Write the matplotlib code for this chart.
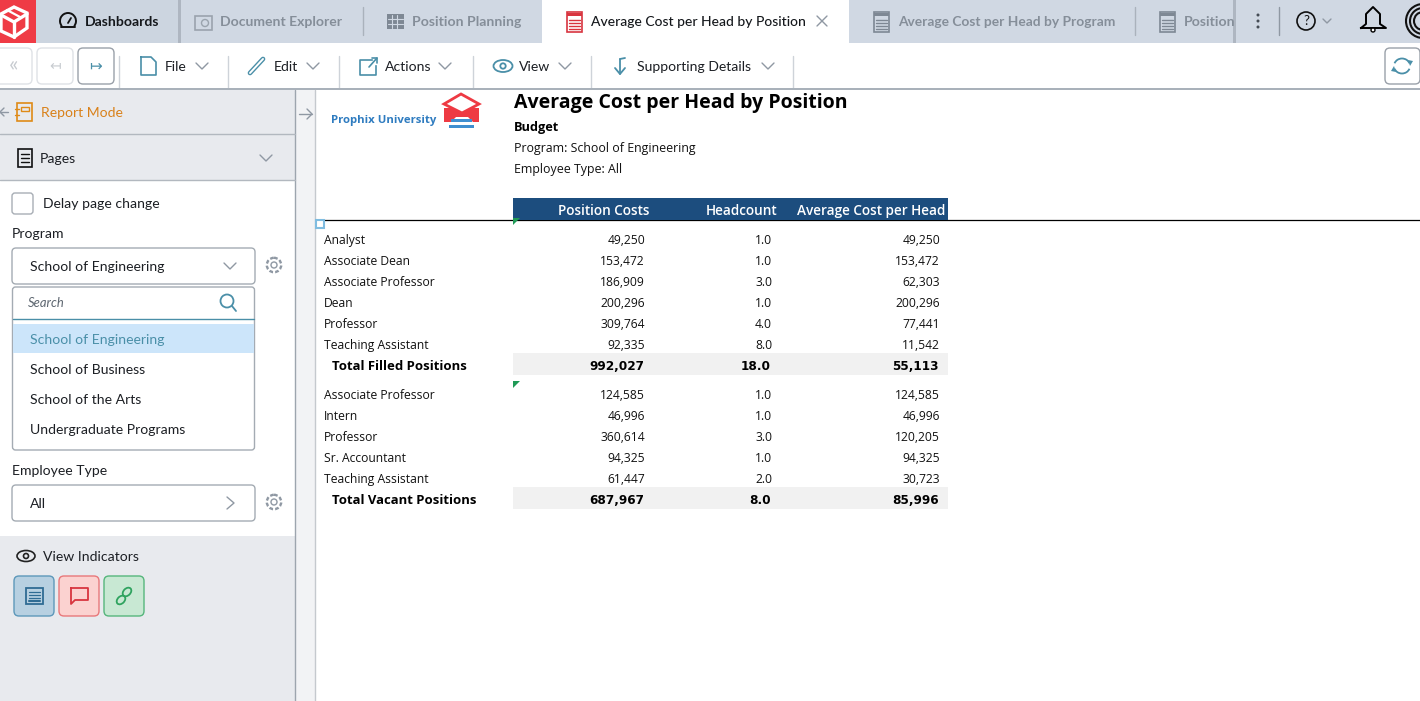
import matplotlib
matplotlib.use('Agg')
import matplotlib.pyplot as plt
from matplotlib.patches import Rectangle, FancyBboxPatch, Circle, Polygon, Ellipse, Arc

# table data
filled_positions = ['Analyst', 'Associate Dean', 'Associate Professor', 'Dean', 'Professor', 'Teaching Assistant']
filled_costs = [49250, 153472, 186909, 200296, 309764, 92335]
filled_heads = [1.0, 1.0, 3.0, 1.0, 4.0, 8.0]
filled_avg = [49250, 153472, 62303, 200296, 77441, 11542]
filled_total = ('Total Filled Positions', 992027, 18.0, 55113)

vacant_positions = ['Associate Professor', 'Intern', 'Professor', 'Sr. Accountant', 'Teaching Assistant']
vacant_costs = [124585, 46996, 360614, 94325, 61447]
vacant_heads = [1.0, 1.0, 3.0, 1.0, 2.0]
vacant_avg = [124585, 46996, 120205, 94325, 30723]
vacant_total = ('Total Vacant Positions', 687967, 8.0, 85996)

columns = ['Position Costs', 'Headcount', 'Average Cost per Head']
programs = ['School of Engineering', 'School of Business', 'School of the Arts', 'Undergraduate Programs']
menus = ['File', 'Edit', 'Actions', 'View', 'Supporting Details']

UI = 'Lato'
TBL = 'Open Sans'
BLUE = '#4a8fa8'
GREY = '#8f98a3'
TAB = '#d0d8e3'
PANEL = '#e8eaee'
EDGE = '#a4abb3'

fig = plt.figure(figsize=(14.2, 7.01), dpi=100)
ax = fig.add_axes([0, 0, 1, 1])
ax.set_xlim(0, 1420)
ax.set_ylim(701, 0)
ax.axis('off')


def box(x, y, w, h, fc, ec='none', lw=1, z=1):
    ax.add_patch(Rectangle((x, y), w, h, fc=fc, ec=ec, lw=lw, zorder=z))


def rbox(x, y, w, h, fc='white', ec=EDGE, lw=1, r=4, z=2):
    ax.add_patch(FancyBboxPatch((x + r, y + r), w - 2 * r, h - 2 * r, boxstyle=f'round,pad={r},rounding_size={r}',
                                fc=fc, ec=ec, lw=lw, zorder=z))


def line(xs, ys, c='black', lw=1, z=3):
    ax.plot(xs, ys, color=c, lw=lw, zorder=z, solid_capstyle='round')


def txt(x, y, s, size=10.1, c='#1c1f24', ha='left', weight='normal', family=UI, style='normal', z=5):
    ax.text(x, y, s, fontsize=size, color=c, ha=ha, va='center', fontweight=weight, family=family, style=style, zorder=z)


def chevron(x, y, c=GREY, w=6, h=6):
    line([x - w, x, x + w], [y - h / 2, y + h / 2, y - h / 2], c=c, lw=1)


def doc_icon(x, y, c='#7e8894', w=15, h=20):
    box(x, y, w, h, 'none', ec=c, lw=1.2, z=4)
    box(x, y + 1, w, 3, c, z=4)
    for k in (8, 11, 14, 17):
        line([x + 2, x + w - 2], [y + k, y + k], c=c, lw=1, z=4)


def gear(x, y):
    ax.add_patch(Circle((x, y), 3, fc='none', ec=GREY, lw=1, zorder=4))
    ax.add_patch(Circle((x, y), 7.2, fc='none', ec=GREY, lw=1.7, ls=(0, (1.6, 0.9)), zorder=4))


# background
box(0, 0, 1420, 701, 'white', z=0)

# tab strip
box(0, 0, 1420, 43, TAB)
box(0, 0, 36, 43, '#ef3b45', z=2)
ax.add_patch(Polygon([(14, 7), (27, 13), (27, 28), (14, 37), (1, 31), (1, 14)], fc='none', ec='white', lw=2.4, zorder=3))
line([1, 14, 27], [15, 22, 14], c='white', lw=2.4)
line([14, 14], [22, 37], c='white', lw=2.4)
line([7, 20], [10, 17], c='white', lw=1.6)
box(36, 0, 143, 43, '#ccd5e0', z=1)
box(178, 0, 3, 43, '#aeb6c1', z=2)
ax.add_patch(Arc((68, 21), 16, 16, theta1=140, theta2=400, ec='#111111', lw=1.4, zorder=4))
line([61, 75], [27, 27], c='#111111', lw=1.4, z=4)
line([68, 71], [23, 18], c='#111111', lw=1.3, z=4)
txt(85, 21.5, 'Dashboards', c='#15181c', weight='bold')
box(195, 16, 17, 14, 'none', ec='#9aa3ad', lw=1.2, z=4)
ax.add_patch(Circle((205, 23), 3.5, fc='none', ec='#9aa3ad', lw=1, zorder=4))
txt(220, 21.5, 'Document Explorer', c='#858e99', weight='bold')
line([363, 363], [7, 35], c='#aab2bc')
box(387, 14, 17, 15, '#7e8894', z=4)
for k in (392, 397):
    line([k, k], [15, 28], c=TAB, lw=0.8, z=5)
for k in (19, 24):
    line([388, 403], [k, k], c=TAB, lw=0.8, z=5)
txt(412, 21.5, 'Position Planning', c='#858e99', weight='bold')

box(542, 0, 307, 43, 'white', z=2)
doc_icon(567, 12, c='#d8353f')
txt(591, 21.5, 'Average Cost per Head by Position', size=10, c='#15181c', weight='medium')
line([817, 827], [16, 26], c=GREY)
line([827, 817], [16, 26], c=GREY)
doc_icon(874, 12)
txt(898, 21.5, 'Average Cost per Head by Program', size=9.95, c='#858e99', weight='bold')
line([1135, 1135], [7, 35], c='#aab2bc')
doc_icon(1160, 12)
txt(1184, 21.5, 'Position', c='#858e99', weight='bold')
box(1234, 0, 186, 43, TAB, z=3)
box(1233, 0, 3, 43, '#aeb6c1', z=4)
for k in (15, 21, 27):
    ax.add_patch(Circle((1258, k), 1.5, fc='#454c55', zorder=5))
line([1279, 1279], [7, 35], c='#8f98a3', z=5)
ax.add_patch(Circle((1306, 21), 9, fc='none', ec='#111111', lw=1.2, zorder=5))
txt(1306, 21, '?', size=9.5, ha='center', c='#111111', z=6)
chevron(1327, 21, w=4, h=4)
ax.plot([1361, 1366, 1366, 1373, 1380, 1380, 1386, 1361], [28, 24, 14, 7, 14, 24, 28, 28], color='black', lw=1.4, zorder=5)
ax.add_patch(Circle((1373, 30), 2, fc='white', ec='black', lw=1, zorder=5))
for r in (17, 13, 9):
    ax.add_patch(Circle((1423, 21), r, fc='none', ec='#111111', lw=1.5, zorder=5))

# toolbar
rbox(-8, 48, 40, 36, ec='#dfe2e6', r=5)
txt(14, 65, '«', size=16, c='#c7cbd0', ha='center')
rbox(37, 48, 36, 36, ec='#dfe2e6', r=5)
txt(55, 66, '↤', size=10, c='#c7cbd0', ha='center', family='DejaVu Sans')
rbox(78, 48, 36, 36, ec='#9aa1a9', r=5)
txt(96, 66, '↦', size=11, c=BLUE, ha='center', family='DejaVu Sans')

for x in (119, 228, 339, 473, 591, 793):
    line([x, x], [56, 88], c='#ced3d9')
ax.plot([141, 151, 156, 156, 141, 141], [57, 57, 62, 75, 75, 57], color=BLUE, lw=1.2, zorder=4)
line([250, 263], [73, 59], c=BLUE, lw=3.4)
line([250, 263], [73, 59], c='white', lw=1.4, z=4)
ax.plot([372, 360, 360, 376, 376], [60, 60, 75, 75, 66], color=BLUE, lw=1.2, zorder=4)
line([369, 377], [67, 58], c=BLUE, lw=1.2, z=5)
line([372, 377, 377], [58, 58, 63], c=BLUE, lw=1.2, z=5)
ax.add_patch(Ellipse((503, 66), 19, 12, fc='none', ec=BLUE, lw=1.3, zorder=4))
ax.add_patch(Circle((503, 66), 2.7, fc='none', ec=BLUE, lw=1.3, zorder=4))
line([620, 620], [59, 74], c=BLUE, lw=1.3)
line([615, 620, 625], [68, 74, 68], c=BLUE, lw=1.3)
line([620, 625], [59, 58], c=BLUE, lw=1.3)
menu_x = [165, 274, 385, 519, 637]
chev_x = [202, 313, 445, 565, 768]
for m, x, cx in zip(menus, menu_x, chev_x):
    txt(x, 67, m)
    chevron(cx, 66)
rbox(1385, 48, 35, 36, ec='#9aa1a9', r=5)
ax.add_patch(Arc((1402, 66), 16, 15, theta1=200, theta2=340, ec=BLUE, lw=1.3, zorder=4))
ax.add_patch(Arc((1402, 66), 16, 15, theta1=20, theta2=160, ec=BLUE, lw=1.3, zorder=4))
ax.add_patch(Polygon([(1408, 60), (1413, 61), (1410, 66)], fc=BLUE, zorder=4))
ax.add_patch(Polygon([(1396, 72), (1391, 71), (1394, 66)], fc=BLUE, zorder=4))
box(0, 88, 1420, 2, '#a9b1ba', z=3)

# left panel
box(0, 90, 295, 611, PANEL)
box(295, 90, 21, 611, '#f2f3f5', z=1)
line([295, 295], [90, 701], c='#9da5ae')
line([315, 315], [90, 701], c='#c5c9ce')
line([0, 8], [112, 112], c=GREY)
line([4, 0, 4], [108, 112, 116], c=GREY)
line([299, 312], [114, 114], c=GREY)
line([307, 312, 307], [109, 114, 119], c=GREY)
box(17, 103, 15, 18, 'none', ec='#df8a17', lw=1.2, z=4)
box(21, 107, 8, 4, 'none', ec='#df8a17', lw=1, z=4)
line([15, 19], [109, 109], c='#df8a17', z=4)
line([15, 19], [115, 115], c='#df8a17', z=4)
txt(41, 113, 'Report Mode', c='#d9811a')
line([0, 295], [134, 134], c='#b2b8bf')
box(18, 149, 14, 18, 'none', ec='#111111', lw=1.2, z=4)
for k in (154, 158, 162):
    line([21, 29], [k, k], c='#111111', lw=1, z=4)
txt(40, 159, 'Pages')
chevron(266, 158)
line([0, 295], [180, 180], c='#b2b8bf')
box(0, 181, 295, 355, 'white', z=1)

rbox(12, 193, 21, 21, ec='#a8aeb5', r=3)
txt(43, 204, 'Delay page change')
txt(12, 234, 'Program')
rbox(12, 248, 243, 36)
txt(30, 267, 'School of Engineering')
chevron(230, 266)
gear(274, 265)

# dropdown
rbox(12.5, 287, 242, 163, ec=EDGE, r=3)
txt(28, 303, 'Search', size=9.4, c='#5d6670', style='italic')
ax.add_patch(Circle((227, 301), 6.5, fc='none', ec=BLUE, lw=1.3, zorder=4))
line([232, 236], [306, 311], c=BLUE, lw=1.3)
line([13, 254], [318.5, 318.5], c=BLUE)
box(13, 324, 241, 29, '#cce5fa', z=3)
prog_y = [340, 370, 400, 430]
for i, (p, y) in enumerate(zip(programs, prog_y)):
    txt(30, y, p, c='#4a8fa8' if i == 0 else '#1c1f24')

txt(12, 471, 'Employee Type')
rbox(12, 485, 243, 36)
txt(30, 504, 'All')
line([227, 234, 227], [497, 503, 509], c=GREY)
gear(274, 502)

ax.add_patch(Ellipse((26, 556), 18, 11, fc='none', ec='#222222', lw=1.2, zorder=4))
ax.add_patch(Circle((26, 556), 2.5, fc='none', ec='#222222', lw=1.2, zorder=4))
txt(43, 557, 'View Indicators')
rbox(14, 576, 40, 40, fc='#b7d0e1', ec='#5d98ba', r=5)
rbox(59, 576, 40, 40, fc='#fbd2d0', ec='#e8787a', r=5)
rbox(104, 576, 40, 40, fc='#c8e8d3', ec='#56b67c', r=5)
box(26, 588, 17, 16, 'none', ec='#2f6c94', lw=1.3, z=4)
for k in (592, 595, 598):
    line([29, 40], [k, k], c='#2f6c94', lw=0.9, z=4)
line([29, 40], [601, 601], c='#2f6c94', lw=1.5, z=4)
ax.plot([71, 88, 88, 75, 71, 71], [588, 588, 600, 600, 604, 588], color='#d8353f', lw=1.3, zorder=4)
ax.add_patch(Ellipse((121, 600), 10, 7, angle=-45, fc='none', ec='#2fa35f', lw=1.3, zorder=4))
ax.add_patch(Ellipse((127, 592), 10, 7, angle=-45, fc='none', ec='#2fa35f', lw=1.3, zorder=4))

# report header
txt(331, 121, 'Prophix University', size=8.2, c='#2f7cc0', weight='bold', family='Open Sans')
ax.add_patch(Polygon([(444, 108), (444, 122), (451, 122), (456, 117), (468, 117), (473, 122), (479, 122), (479, 108)], fc='#ee3a43', zorder=3))
ax.add_patch(Polygon([(461, 94), (479, 104), (462, 113), (444, 104)], fc='white', ec='#ee3a43', lw=2, zorder=4))
box(451, 119, 21, 3, '#3f8fd0', z=4)
box(449, 125, 25, 2.5, '#3f8fd0', z=4)
txt(514, 103, 'Average Cost per Head by Position', size=14, c='black', weight='bold', family=TBL)
txt(514, 127.5, 'Budget', size=9.2, c='black', weight='bold', family=TBL)
txt(514, 148.5, 'Program: School of Engineering', size=8.9, c='#111111', family=TBL)
txt(514, 169.5, 'Employee Type: All', size=8.9, c='#111111', family=TBL)

# table
box(513, 198, 435, 22, '#1c4d7e', z=2)
line([316, 1420], [219.5, 219.5], c='black', lw=0.9, z=1.5)
col_hdr_x = [650, 777, 945]
for c, x in zip(columns, col_hdr_x):
    txt(x, 211, c, size=9.85, c='white', ha='right', family=TBL, weight='semibold')
box(316, 220, 8, 8, 'white', ec='#7fbce0', lw=1.5, z=4)
for y in (218, 381):
    ax.add_patch(Polygon([(513, y), (520, y), (513, y + 7)], fc='#1f9a56', zorder=4))

col_x = [645, 772, 940]
tot_x = [644, 771, 939]


def draw_rows(names, costs, heads, avgs, total, top):
    y = top
    for n, a, b, d in zip(names, costs, heads, avgs):
        txt(324, y, n, size=8.7, c='#111111', family=TBL)
        txt(col_x[0], y, f'{a:,}', size=8.7, c='#111111', ha='right', family=TBL)
        txt(col_x[1], y, f'{b:.1f}', size=8.7, c='#111111', ha='right', family=TBL)
        txt(col_x[2], y, f'{d:,}', size=8.7, c='#111111', ha='right', family=TBL)
        y += 21
    box(513, y - 13.5, 435, 22, '#f1f1f1', z=1)
    txt(332, y, total[0], size=9.45, c='black', family=TBL, weight='bold')
    txt(tot_x[0], y, f'{total[1]:,}', size=8.7, c='black', ha='right', family='DejaVu Sans', weight='bold')
    txt(tot_x[1], y, f'{total[2]:.1f}', size=8.7, c='black', ha='right', family='DejaVu Sans', weight='bold')
    txt(tot_x[2], y, f'{total[3]:,}', size=8.7, c='black', ha='right', family='DejaVu Sans', weight='bold')


draw_rows(filled_positions, filled_costs, filled_heads, filled_avg, filled_total, 240.5)
draw_rows(vacant_positions, vacant_costs, vacant_heads, vacant_avg, vacant_total, 395.5)

fig.savefig('out.png', dpi=100)
